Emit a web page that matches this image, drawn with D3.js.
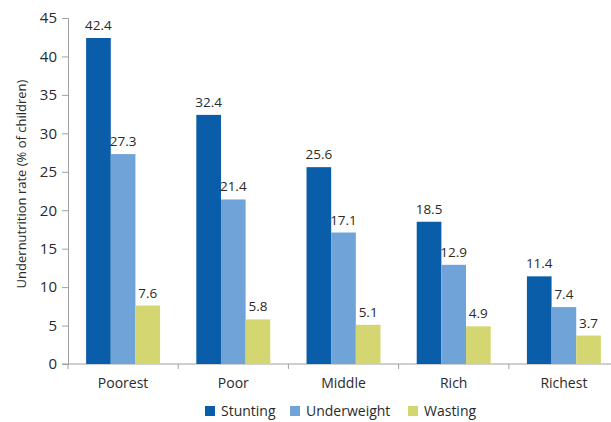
<!DOCTYPE html>
<html>
<head>
<meta charset="utf-8">
<script src="https://cdn.jsdelivr.net/npm/d3@7"></script>
<style>
  html, body { margin: 0; padding: 0; background: #ffffff; }
  svg { display: block; }
  text { font-family: "Open Sans", "Noto Sans", sans-serif; fill: #2a2a2a; }
</style>
</head>
<body>
<svg id="chart" width="611" height="422"></svg>
<script>
// Undernutrition rates by wealth quintile
const categories = ["Poorest", "Poor", "Middle", "Rich", "Richest"];
const seriesNames = ["Stunting", "Underweight", "Wasting"];
const stunting = [42.4, 32.4, 25.6, 18.5, 11.4];
const underweight = [27.3, 21.4, 17.1, 12.9, 7.4];
const wasting = [7.6, 5.8, 5.1, 4.9, 3.7];
const yTicks = [0, 5, 10, 15, 20, 25, 30, 35, 40, 45];
const colors = ["#0a5da8", "#70a4d9", "#d3d671"];

const seriesValues = [stunting, underweight, wasting];
const rows = categories.map((c, i) => ({
  category: c,
  values: seriesNames.map((s, j) => ({ series: s, value: seriesValues[j][i] }))
}));

const svg = d3.select("#chart");

const x0 = d3.scaleBand().domain(categories).range([68, 619]).padding(0);
const x1 = d3.scaleBand().domain(seriesNames).range([0, x0.bandwidth()])
  .paddingInner(0).paddingOuter(0.735);
const y = d3.scaleLinear().domain([0, 45]).range([364, 18]);
const color = d3.scaleOrdinal().domain(seriesNames).range(colors);

// Y axis
const yAxis = svg.append("g")
  .attr("transform", "translate(68,0)")
  .call(d3.axisLeft(y).tickValues(yTicks).tickSize(6).tickPadding(5));
yAxis.select(".domain").attr("stroke", "#a0a0a0");
yAxis.selectAll(".tick line").attr("stroke", "#a0a0a0");
yAxis.selectAll(".tick text")
  .style("font-size", "15px")
  .attr("fill", "#2a2a2a");

// X axis baseline with category dividers
const xAxisG = svg.append("g");
xAxisG.append("line")
  .attr("x1", 62).attr("x2", 611)
  .attr("y1", y(0)).attr("y2", y(0))
  .attr("stroke", "#a0a0a0");
xAxisG.selectAll("line.div")
  .data(categories)
  .join("line")
  .attr("class", "div")
  .attr("x1", d => x0(d)).attr("x2", d => x0(d))
  .attr("y1", y(0)).attr("y2", y(0) + 5)
  .attr("stroke", "#a0a0a0");
xAxisG.selectAll("text")
  .data(categories)
  .join("text")
  .attr("x", d => x0(d) + x0.bandwidth() / 2)
  .attr("y", 388)
  .attr("text-anchor", "middle")
  .style("font-size", "14px")
  .text(d => d);

// Bars
const groups = svg.append("g").selectAll("g")
  .data(rows)
  .join("g")
  .attr("transform", d => `translate(${x0(d.category)},0)`);

groups.selectAll("rect")
  .data(d => d.values)
  .join("rect")
  .attr("x", d => x1(d.series))
  .attr("y", d => y(d.value))
  .attr("width", x1.bandwidth())
  .attr("height", d => y(0) - y(d.value))
  .attr("fill", d => color(d.series));

groups.selectAll("text")
  .data(d => d.values)
  .join("text")
  .attr("x", d => x1(d.series) + x1.bandwidth() / 2)
  .attr("y", d => y(d.value) - 8)
  .attr("text-anchor", "middle")
  .style("font-size", "13.5px")
  .text(d => d.value.toFixed(1));

// Y axis title
svg.append("text")
  .attr("transform", "translate(26,184) rotate(-90)")
  .attr("text-anchor", "middle")
  .style("font-size", "13px")
  .text("Undernutrition rate (% of children)");

// Legend
const legendItems = [
  { name: "Stunting", x: 205 },
  { name: "Underweight", x: 290 },
  { name: "Wasting", x: 408 }
];
const legend = svg.append("g").selectAll("g")
  .data(legendItems)
  .join("g")
  .attr("transform", d => `translate(${d.x},406)`);
legend.append("rect")
  .attr("width", 10).attr("height", 10)
  .attr("fill", d => color(d.name));
legend.append("text")
  .attr("x", 16).attr("y", 10)
  .style("font-size", "14px")
  .text(d => d.name);
</script>
</body>
</html>
